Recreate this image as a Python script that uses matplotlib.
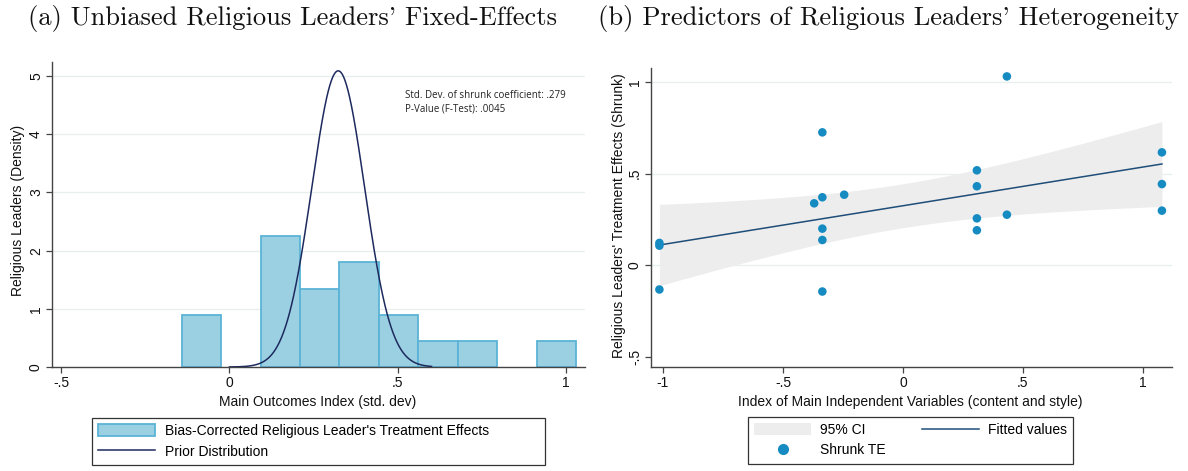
import numpy as np
import matplotlib
matplotlib.use("Agg")
import matplotlib.pyplot as plt
from matplotlib.patches import Patch
from matplotlib.lines import Line2D

# ---- Panel (a): histogram of bias-corrected leader effects ----
bin_start = -0.142
bin_width = 0.1172
bin_counts = [2, 0, 5, 3, 4, 2, 1, 1, 0, 1]
prior_mean = 0.323
prior_sd = 0.0784
prior_range = (0.0, 0.60)
sd_shrunk_text = "Std. Dev. of shrunk coefficient: .279"
pval_text = "P-Value (F-Test): .0045"

# ---- Panel (b): shrunk treatment effects vs. index ----
index_x = [-1.015, -1.015, -1.015,
           -0.336, -0.336, -0.336, -0.336, -0.336,
           -0.370, -0.245,
           0.308, 0.308, 0.308, 0.308,
           0.433, 0.433,
           1.079, 1.079, 1.079]
shrunk_te = [0.122, 0.107, -0.132,
             0.725, 0.371, 0.200, 0.138, -0.143,
             0.338, 0.385,
             0.518, 0.431, 0.256, 0.191,
             1.030, 0.276,
             0.616, 0.443, 0.298]

left_xticks = [-0.5, 0, 0.5, 1]
left_xticklabels = ["-.5", "0", ".5", "1"]
left_yticks = [0, 1, 2, 3, 4, 5]
right_xticks = [-1, -0.5, 0, 0.5, 1]
right_xticklabels = ["-1", "-.5", "0", ".5", "1"]
right_yticks = [-0.5, 0, 0.5, 1]
right_yticklabels = ["-.5", "0", ".5", "1"]

W, H = 1188, 471
plt.rcParams["font.family"] = ["Liberation Sans", "DejaVu Sans"]
fig = plt.figure(figsize=(W / 100, H / 100), dpi=100)

AX_COL = "#444444"
GRID_COL = "#e6eeee"
BAR_FILL = "#9bd0e3"
BAR_EDGE = "#5bb4d7"
NAVY = "#1d2a5e"
FIT_COL = "#1f4e79"
DOT_COL = "#168bc2"
CI_COL = "#ededed"


def px_axes(x0, x1, ytop, ybot):
    return fig.add_axes([x0 / W, (H - ybot) / H, (x1 - x0) / W, (ybot - ytop) / H])


def style_axes(ax):
    for s in ("top", "right"):
        ax.spines[s].set_visible(False)
    for s in ("left", "bottom"):
        ax.spines[s].set_color(AX_COL)
        ax.spines[s].set_linewidth(1.0)
    ax.tick_params(axis="both", direction="out", length=4.5, width=0.9,
                   color=AX_COL, labelsize=10, labelcolor="#111111", pad=2)
    ax.tick_params(axis="y", labelrotation=90)
    for lab in ax.get_yticklabels():
        lab.set_va("center")


# ---------------- Panel (a) ----------------
axA = px_axes(52, 585, 62, 367)
n_obs = sum(bin_counts)
counts = np.array(bin_counts)
lefts = bin_start + bin_width * np.arange(len(counts))
density = counts / (n_obs * bin_width)
filled = counts > 0
for yg in [1, 2, 3, 4, 5]:
    axA.axhline(yg, color=GRID_COL, lw=0.9, zorder=0)
axA.bar(lefts[filled], density[filled], width=bin_width, align="edge",
        color=BAR_FILL, edgecolor=BAR_EDGE, linewidth=1.3, zorder=2)
xs = np.linspace(prior_range[0], prior_range[1], 400)
prior = np.exp(-0.5 * ((xs - prior_mean) / prior_sd) ** 2) / (prior_sd * np.sqrt(2 * np.pi))
axA.plot(xs, prior, color=NAVY, lw=1.1, zorder=3)
axA.set_xlim(-0.527, 1.056)
axA.set_ylim(0, 5.24)
axA.set_xticks(left_xticks)
axA.set_xticklabels(left_xticklabels)
axA.set_yticks(left_yticks)
style_axes(axA)
axA.text(0.522, 4.67, sd_shrunk_text, fontsize=7.0, family="Open Sans",
         color="#222222", va="center", ha="left")
axA.text(0.522, 4.43, pval_text, fontsize=7.0, family="Open Sans",
         color="#222222", va="center", ha="left")

fig.text(18.5 / W, 1 - 210 / H, "Religious Leaders (Density)", rotation=90,
         ha="center", va="center", fontsize=10, color="#111111")
fig.text(318 / W, 1 - 402 / H, "Main Outcomes Index (std. dev)",
         ha="center", va="center", fontsize=10, color="#111111")

legA = fig.legend(
    handles=[Patch(facecolor=BAR_FILL, edgecolor=BAR_EDGE, linewidth=1.3),
             Line2D([], [], color=NAVY, lw=1.1)],
    labels=["Bias-Corrected Religious Leader's Treatment Effects", "Prior Distribution"],
    loc="upper left", bbox_to_anchor=(92 / W, 1 - 418 / H, (545 - 92) / W, 0.0),
    mode="expand", borderaxespad=0, fontsize=10, handlelength=4.1, handleheight=0.95,
    handletextpad=0.72, borderpad=0.45, labelspacing=0.45, fancybox=False,
    edgecolor="#333333", framealpha=1)
legA.get_frame().set_linewidth(0.9)

# ---------------- Panel (b) ----------------
axB = px_axes(651, 1172, 68, 366.7)
x = np.array(index_x)
y = np.array(shrunk_te)
for g in [0, 0.5, 1]:
    axB.axhline(g, color=GRID_COL, lw=0.9, zorder=0)
slope, intercept = np.polyfit(x, y, 1)
n = len(x)
resid = y - (intercept + slope * x)
s = np.sqrt(np.sum(resid ** 2) / (n - 2))
sxx = np.sum((x - x.mean()) ** 2)
t_crit = 2.1098  # t(0.975, 17 df)
xf = np.linspace(x.min(), x.max(), 200)
yf = intercept + slope * xf
se = s * np.sqrt(1 / n + (xf - x.mean()) ** 2 / sxx)
axB.fill_between(xf, yf - t_crit * se, yf + t_crit * se, color=CI_COL, lw=0, zorder=1)
axB.plot(xf, yf, color=FIT_COL, lw=1.1, zorder=3)
axB.scatter(x, y, s=38, color=DOT_COL, edgecolors="none", zorder=4)
axB.set_xlim(-1.05, 1.121)
axB.set_ylim(-0.553, 1.076)
axB.set_xticks(right_xticks)
axB.set_xticklabels(right_xticklabels)
axB.set_yticks(right_yticks)
axB.set_yticklabels(right_yticklabels)
style_axes(axB)

fig.text(618.5 / W, 1 - 215.5 / H, "Religious Leaders' Treatment Effects (Shrunk)",
         rotation=90, ha="center", va="center", fontsize=10, color="#111111")
fig.text(910 / W, 1 - 402 / H, "Index of Main Independent Variables (content and style)",
         ha="center", va="center", fontsize=10, color="#111111")

legB = fig.legend(
    handles=[Patch(facecolor=CI_COL, edgecolor="none"),
             Line2D([], [], marker="o", ls="none", color=DOT_COL, markersize=7),
             Line2D([], [], color=FIT_COL, lw=1.1)],
    labels=["95% CI", "Shrunk TE", "Fitted values"],
    ncol=2, loc="upper left", bbox_to_anchor=(748 / W, 1 - 417 / H, (1073 - 748) / W, 0.0),
    mode="expand", borderaxespad=0, fontsize=10, handlelength=4.1, handleheight=0.95,
    handletextpad=0.6, borderpad=0.45, labelspacing=0.45, columnspacing=1.7,
    fancybox=False, edgecolor="#333333", framealpha=1)
legB.get_frame().set_linewidth(0.9)

# ---------------- Titles ----------------
fig.text(28 / W, 1 - 18 / H, "(a) Unbiased Religious Leaders' Fixed-Effects",
         family="cmr10", fontsize=19.1, ha="left", va="center", color="#111111")
fig.text(598 / W, 1 - 18 / H, "(b) Predictors of Religious Leaders' Heterogeneity",
         family="cmr10", fontsize=19.1, ha="left", va="center", color="#111111")

fig.savefig("out.png", dpi=100)
